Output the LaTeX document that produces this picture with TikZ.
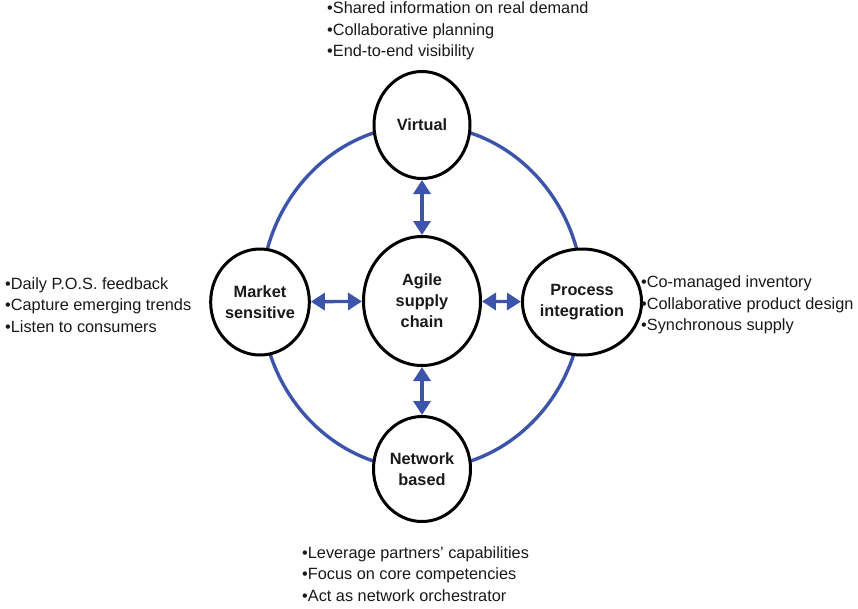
\documentclass[tikz,border=0pt]{standalone}
\usepackage{fontspec}
\setmainfont{Liberation Sans}
\usetikzlibrary{shapes.geometric,arrows.meta}
\definecolor{ringblue}{RGB}{60,84,170}
\definecolor{txt}{RGB}{25,25,25}
\begin{document}
\begin{tikzpicture}[x=1pt,y=-1pt,
  circ/.style={ellipse,draw=black,line width=3pt,fill=white,inner sep=0pt,align=center,text=txt,
    font=\fontsize{16.3}{21}\selectfont\bfseries},
  bul/.style={anchor=west,align=left,inner sep=0pt,text=txt,font=\fontsize{16.3}{21.5}\selectfont},
  link/.style={draw=ringblue,line width=3.4pt,
    {Triangle[length=14pt,width=17pt]}-{Triangle[length=14pt,width=17pt]}}]
\useasboundingbox (0,0) rectangle (858,608);
\draw[ringblue,line width=3.4pt] (422,297) ellipse [x radius=161,y radius=172];
\node[circ,minimum width=96pt,minimum height=107pt] (virt) at (422,125) {Virtual};
\node[circ,minimum width=117pt,minimum height=129pt] (agile) at (422,301) {Agile\\supply\\chain};
\node[circ,minimum width=98pt,minimum height=106pt] (mkt) at (260,302) {Market\\sensitive};
\node[circ,minimum width=95pt,minimum height=106pt] (proc) at (582,302) {Process\\integration};
\node[circ,minimum width=97pt,minimum height=105pt] (net) at (422,469) {Network\\based};
\draw[link] (virt) -- (agile);
\draw[link] (agile) -- (net);
\draw[link] (mkt) -- (agile);
\draw[link] (agile) -- (proc);
\node[bul] (tv) at (327,31) {•Shared information on real demand\\•Collaborative planning\\•End-to-end visibility};
\node[bul] (tm) at (5,305) {•Daily P.O.S. feedback\\•Capture emerging trends\\•Listen to consumers};
\node[bul] (tp) at (641,305) {•Co-managed inventory\\•Collaborative product design\\•Synchronous supply};
\node[bul] (tn) at (302,574) {•Leverage partners’ capabilities\\•Focus on core competencies\\•Act as network orchestrator};
\end{tikzpicture}
\end{document}
